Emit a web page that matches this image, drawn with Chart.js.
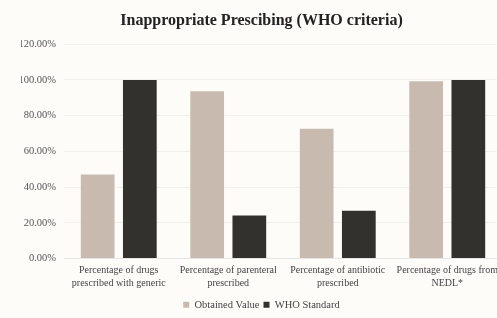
<!DOCTYPE html>
<html>
<head>
<meta charset="utf-8">
<script src="https://cdn.jsdelivr.net/npm/chart.js@4/dist/chart.umd.min.js"></script>
<style>
html,body{margin:0;padding:0;background:#fdfcf9;overflow:hidden;width:497px;height:318px;}
canvas{display:block;}
</style>
</head>
<body>
<canvas id="c" width="523" height="318"></canvas>
<script>
const categories = [
  ["Percentage of drugs", "prescribed with generic"],
  ["Percentage of parenteral", "prescribed"],
  ["Percentage of antibiotic", "prescribed"],
  ["Percentage of drugs from", "NEDL*"]
];
const obtainedValues = [47.0, 93.6, 72.6, 99.2];
const whoStandard = [100, 24.1, 26.8, 100];
const seriesNames = ["Obtained Value", "WHO Standard"];
const yTicks = { min: 0, max: 120, step: 20 };

const serif = "'Liberation Serif', 'DejaVu Serif', serif";
const bg = {
  id: 'bg',
  beforeDraw(chart) {
    const ctx = chart.ctx;
    ctx.save();
    ctx.fillStyle = '#fdfcf9';
    ctx.fillRect(0, 0, chart.width, chart.height);
    ctx.restore();
  }
};

new Chart(document.getElementById('c'), {
  type: 'bar',
  data: {
    labels: categories,
    datasets: [
      { label: seriesNames[0], data: obtainedValues, backgroundColor: '#c9bab0', borderWidth: 0 },
      { label: seriesNames[1], data: whoStandard, backgroundColor: '#33312e', borderWidth: 0 }
    ]
  },
  options: {
    responsive: false,
    animation: false,
    devicePixelRatio: 1,
    categoryPercentage: 0.77,
    barPercentage: 0.8,
    layout: { padding: { left: 21, right: 21, top: 9, bottom: -2 } },
    plugins: {
      title: {
        display: true,
        text: 'Inappropriate Prescibing (WHO criteria)',
        font: { family: serif, size: 16, weight: 'bold' },
        color: '#222',
        padding: { top: 2, bottom: 14 }
      },
      legend: {
        position: 'bottom',
        labels: {
          font: { family: serif, size: 10.5 },
          color: '#444',
          boxWidth: 6,
          boxHeight: 6,
          padding: 4
        }
      },
      tooltip: { enabled: false }
    },
    scales: {
      x: {
        grid: { display: false, drawTicks: false },
        border: { display: true, color: '#e6e6e6' },
        ticks: {
          font: { family: serif, size: 10, lineHeight: 1.25 },
          color: '#444',
          maxRotation: 0,
          autoSkip: false,
          padding: 6
        }
      },
      y: {
        min: yTicks.min,
        max: yTicks.max,
        ticks: {
          stepSize: yTicks.step,
          font: { family: serif, size: 10.5 },
          color: '#555',
          padding: 8,
          callback: v => v.toFixed(2) + '%'
        },
        grid: { color: '#efefec', drawTicks: false },
        border: { display: false },
        afterFit(scale) { scale.width = 43; }
      }
    }
  },
  plugins: [bg]
});
</script>
</body>
</html>
